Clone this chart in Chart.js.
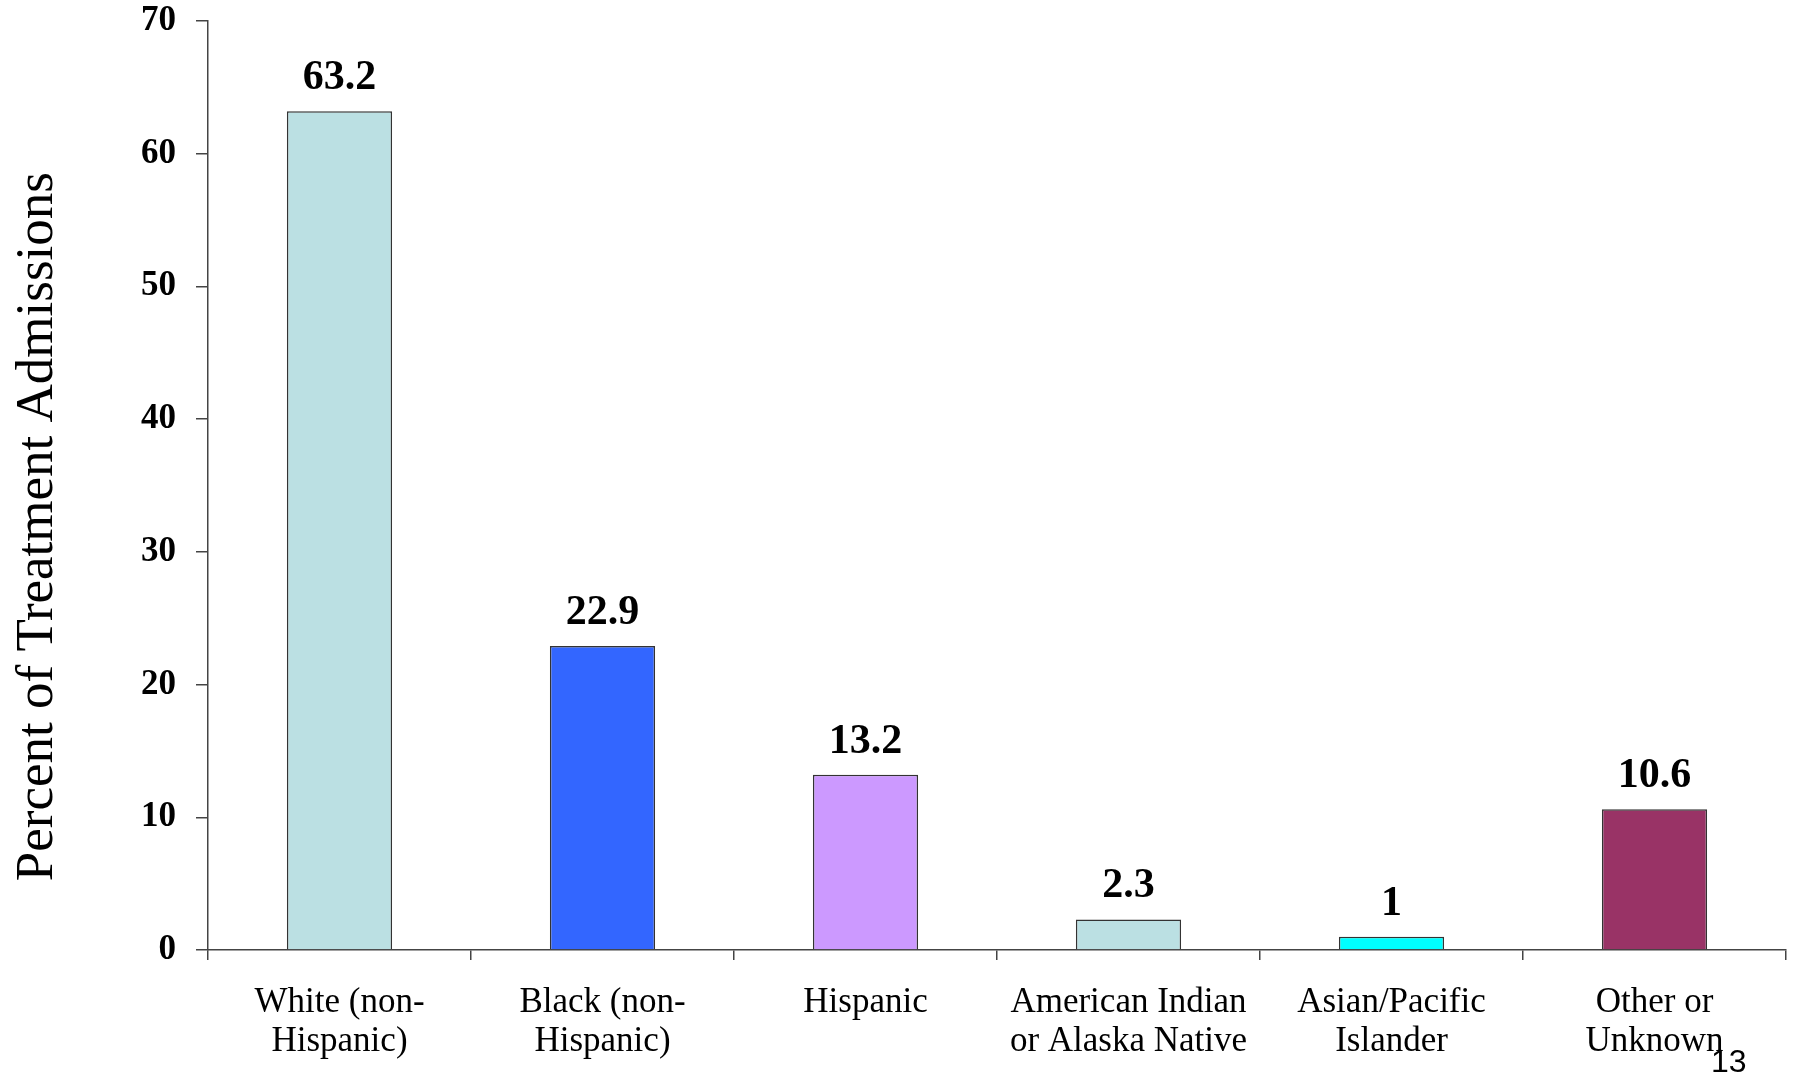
<!DOCTYPE html>
<html>
<head>
<meta charset="utf-8">
<script src="https://cdn.jsdelivr.net/npm/chart.js@4"></script>
<style>
  body { margin: 0; background: #fff; }
  canvas { display: block; }
</style>
</head>
<body>
<canvas id="chart" width="1795" height="1075"></canvas>
<script>
const categories = [
    ['White (non-', 'Hispanic)'],
    ['Black (non-', 'Hispanic)'],
    ['Hispanic'],
    ['American Indian', 'or Alaska Native'],
    ['Asian/Pacific', 'Islander'],
    ['Other or', 'Unknown']
];
const admissions = [63.2, 22.9, 13.2, 2.3, 1, 10.6];
const barColors = ['#BBE0E3', '#3366FF', '#CC99FF', '#BBE0E3', '#00FFFF', '#993366'];
const yTicks = [0, 10, 20, 30, 40, 50, 60, 70];
const yTitle = 'Percent of Treatment Admissions';
const pageNumber = '13';

const serif = '"Liberation Serif", "Times New Roman", serif';

// value labels above bars, the y title (sits a bit below centre) and the slide number
const extras = {
    id: 'extras',
    afterDatasetsDraw(chart) {
        const ctx = chart.ctx;
        const meta = chart.getDatasetMeta(0);
        ctx.save();
        ctx.font = 'bold 42px ' + serif;
        ctx.fillStyle = '#000';
        ctx.textAlign = 'center';
        ctx.textBaseline = 'alphabetic';
        meta.data.forEach((bar, i) => {
            ctx.fillText(String(admissions[i]), bar.x, bar.y - 22);
        });

        ctx.save();
        ctx.translate(38, chart.scales.y.getPixelForValue(31.9));
        ctx.rotate(-Math.PI / 2);
        ctx.font = '53px ' + serif;
        ctx.textBaseline = 'middle';
        ctx.fillText(yTitle, 0, 0);
        ctx.restore();

        ctx.font = '32px "Liberation Sans", Arial, sans-serif';
        ctx.textAlign = 'left';
        ctx.fillText(pageNumber, 1711, 1072);
        ctx.restore();
    }
};

const config = {
    type: 'bar',
    data: {
        labels: categories,
        datasets: [{
            data: admissions,
            backgroundColor: barColors,
            borderColor: '#333',
            borderWidth: 1.5,
            barPercentage: 0.4,
            categoryPercentage: 1.0
        }]
    },
    options: {
        responsive: false,
        animation: false,
        layout: { padding: { top: 21, right: 9, left: 0, bottom: 0 } },
        plugins: {
            legend: { display: false },
            tooltip: { enabled: false }
        },
        scales: {
            x: {
                afterFit: s => { s.height = 125; },
                grid: {
                    drawOnChartArea: false,
                    drawTicks: true,
                    tickLength: 10,
                    color: '#444',
                    lineWidth: 1.5
                },
                border: { display: true, color: '#444', width: 1.5 },
                ticks: {
                    color: '#000',
                    padding: 23,
                    maxRotation: 0,
                    autoSkip: false,
                    font: { family: serif, size: 35, lineHeight: 1.12 }
                }
            },
            y: {
                min: 0,
                max: 70,
                afterFit: s => { s.width = 208; s.paddingTop = 0; s.paddingBottom = 0; },
                afterBuildTicks: s => { s.ticks = yTicks.map(v => ({ value: v })); },
                grid: {
                    drawOnChartArea: false,
                    drawTicks: true,
                    tickLength: 12,
                    color: '#444',
                    lineWidth: 1.5
                },
                border: { display: true, color: '#444', width: 1.5 },
                ticks: {
                    color: '#000',
                    padding: 20,
                    font: { family: serif, size: 35, weight: 'bold' }
                }
            }
        }
    },
    plugins: [extras]
};

new Chart(document.getElementById('chart').getContext('2d'), config);
</script>
</body>
</html>
